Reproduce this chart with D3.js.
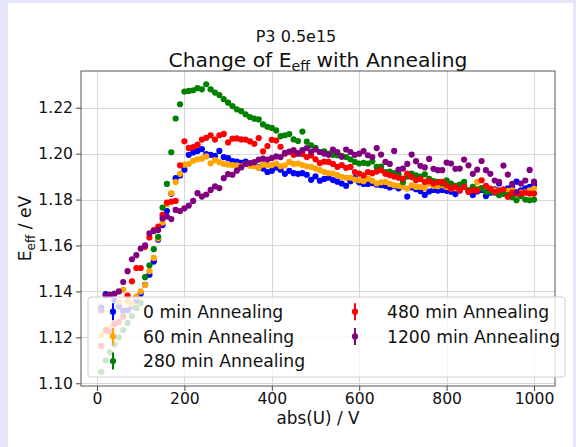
<!DOCTYPE html>
<html>
<head>
<meta charset="utf-8">
<script src="https://cdn.jsdelivr.net/npm/d3@7"></script>
<style>
  html, body { margin: 0; padding: 0; background: #e6e6fa; }
  svg { display: block; }
  text { font-family: "DejaVu Sans", sans-serif; }
</style>
</head>
<body>
<div id="chart"></div>
<script>
// ---------------- data ----------------
const voltages = [10,20,30,40,50,60,70,80,90,100,110,120,130,140,150,160,170,180,190,200,
  210,220,230,240,250,260,270,280,290,300,310,320,330,340,350,360,370,380,390,400,
  410,420,430,440,450,460,470,480,490,500,510,520,530,540,550,560,570,580,590,600,
  610,620,630,640,650,660,670,680,690,700,710,720,730,740,750,760,770,780,790,800,
  810,820,830,840,850,860,870,880,890,900,910,920,930,940,950,960,970,980,990,1000];

const eff0 = [1.1330,1.1388,1.1385,1.1360,1.1335,1.1315,1.1318,1.1335,1.1360,1.1390,
  1.1429,1.1473,1.1530,1.1625,1.1689,1.1750,1.1825,1.1893,1.1905,1.1930,
  1.1995,1.2005,1.2012,1.2020,1.1998,1.1995,1.1990,1.2012,1.1985,1.1980,
  1.1968,1.1965,1.1960,1.1965,1.1955,1.1960,1.1940,1.1935,1.1920,1.1925,
  1.1940,1.1930,1.1912,1.1925,1.1915,1.1912,1.1915,1.1908,1.1886,1.1901,
  1.1882,1.1890,1.1895,1.1885,1.1878,1.1870,1.1860,1.1880,1.1893,1.1875,
  1.1868,1.1868,1.1872,1.1865,1.1863,1.1860,1.1853,1.1858,1.1849,1.1855,
  1.1813,1.1853,1.1845,1.1837,1.1820,1.1835,1.1842,1.1839,1.1842,1.1838,
  1.1834,1.1824,1.1840,1.1860,1.1840,1.1820,1.1835,1.1842,1.1815,1.1830,
  1.1845,1.1870,1.1840,1.1849,1.1855,1.1878,1.1840,1.1849,1.1855,1.1863];

const eff60 = [1.1210,1.1225,1.1240,1.1260,1.1355,1.1407,1.1356,1.1345,1.1377,1.1400,
  1.1428,1.1488,1.1546,1.1630,1.1700,1.1780,1.1828,1.1876,1.1912,1.1952,
  1.1955,1.1969,1.1975,1.1978,1.1988,1.1958,1.1972,1.1963,1.1955,1.1952,
  1.1950,1.1949,1.1945,1.1955,1.1947,1.1945,1.1938,1.1952,1.1949,1.1950,
  1.1957,1.1945,1.1949,1.1964,1.1955,1.1957,1.1950,1.1945,1.1942,1.1935,
  1.1928,1.1920,1.1915,1.1913,1.1906,1.1899,1.1895,1.1895,1.1887,1.1884,
  1.1880,1.1891,1.1882,1.1870,1.1875,1.1877,1.1868,1.1862,1.1860,1.1855,
  1.1848,1.1862,1.1855,1.1855,1.1850,1.1870,1.1860,1.1858,1.1862,1.1855,
  1.1848,1.1850,1.1845,1.1855,1.1840,1.1845,1.1877,1.1850,1.1848,1.1842,
  1.1840,1.1835,1.1833,1.1838,1.1840,1.1826,1.1830,1.1833,1.1840,1.1848];

const eff280 = [1.1050,1.1100,1.1135,1.1170,1.1200,1.1232,1.1263,1.1293,1.1328,1.1350,
  1.1462,1.1514,1.1584,1.1638,1.1765,1.1868,1.2006,1.2153,1.2215,1.2270,
  1.2273,1.2276,1.2285,1.2280,1.2302,1.2280,1.2266,1.2255,1.2237,1.2222,
  1.2207,1.2193,1.2185,1.2171,1.2159,1.2152,1.2149,1.2127,1.2117,1.2112,
  1.2101,1.2076,1.2080,1.2085,1.2062,1.2055,1.2096,1.2052,1.2036,1.2025,
  1.2007,1.2010,1.2000,1.1995,1.1993,1.1990,1.1985,1.1975,1.1964,1.1957,
  1.1960,1.1957,1.1966,1.1942,1.1944,1.1920,1.1922,1.1915,1.1910,1.1877,
  1.1900,1.1913,1.1905,1.1900,1.1910,1.1890,1.1880,1.1877,1.1870,1.1884,
  1.1870,1.1860,1.1865,1.1877,1.1840,1.1855,1.1845,1.1850,1.1833,1.1835,
  1.1830,1.1819,1.1825,1.1819,1.1810,1.1797,1.1815,1.1800,1.1797,1.1800];

const eff480 = [1.1163,1.1232,1.1225,1.1258,1.1268,1.1290,1.1382,1.1444,1.1502,1.1502,
  1.1594,1.1635,1.1667,1.1682,1.1733,1.1787,1.1791,1.1794,1.1949,1.2054,
  1.2025,1.2028,1.2039,1.2061,1.2069,1.2080,1.2061,1.2080,1.2086,1.2049,
  1.2065,1.2066,1.2062,1.2061,1.2053,1.2043,1.2068,1.2010,1.2033,1.2060,
  1.2057,1.2030,1.2000,1.2007,1.1995,1.2002,1.1998,1.1985,1.1992,1.1975,
  1.1959,1.1965,1.1964,1.1955,1.1942,1.1950,1.1938,1.1942,1.1920,1.1913,
  1.1905,1.1920,1.1915,1.1922,1.1928,1.1912,1.1906,1.1900,1.1895,1.1891,
  1.1913,1.1898,1.1884,1.1890,1.1877,1.1880,1.1870,1.1875,1.1877,1.1862,
  1.1848,1.1855,1.1840,1.1855,1.1833,1.1840,1.1840,1.1884,1.1860,1.1848,
  1.1833,1.1840,1.1845,1.1812,1.1830,1.1826,1.1826,1.1830,1.1826,1.1826];

const eff1200 = [1.1318,1.1382,1.1385,1.1390,1.1400,1.1441,1.1488,1.1540,1.1558,1.1587,
  1.1601,1.1653,1.1663,1.1667,1.1718,1.1726,1.1715,1.1755,1.1750,1.1762,
  1.1774,1.1794,1.1828,1.1813,1.1822,1.1842,1.1857,1.1850,1.1893,1.1911,
  1.1908,1.1926,1.1940,1.1955,1.1959,1.1963,1.1974,1.1978,1.1974,1.1981,
  1.1988,1.1985,1.2003,1.2009,1.2015,1.2000,1.2015,1.2024,1.2007,1.2018,
  1.2007,1.2000,1.1995,1.2018,1.2007,1.1986,1.2018,1.2007,1.1995,1.2000,
  1.2011,1.1993,1.1985,1.2024,1.1996,1.1964,1.1955,1.2012,1.1930,1.1935,
  1.1955,1.1996,1.1967,1.1947,1.1940,1.1977,1.1934,1.1928,1.1928,1.1961,
  1.1957,1.1934,1.1935,1.1974,1.1949,1.1912,1.1930,1.1968,1.1928,1.1912,
  1.1883,1.1877,1.1948,1.1909,1.1868,1.1832,1.1870,1.1883,1.1929,1.1878];

const seriesLabels = ["0 min Annealing", "60 min Annealing", "280 min Annealing", "480 min Annealing", "1200 min Annealing"];
const seriesColors = ["blue", "orange", "green", "red", "purple"];
const seriesValues = [eff0, eff60, eff280, eff480, eff1200];
const xTicks = [0, 200, 400, 600, 800, 1000];
const yTicks = [1.10, 1.12, 1.14, 1.16, 1.18, 1.20, 1.22];

// ---------------- layout ----------------
const W = 576, H = 447;
const L = 81, R = 555, T = 71, B = 386;
const FS = 15.6;   // tick labels
const LFS = 17.2;  // legend / axis labels

const svg = d3.select("#chart").append("svg").attr("width", W).attr("height", H);
svg.append("rect").attr("width", W).attr("height", H).attr("fill", "#e6e6fa");
svg.append("rect").attr("x", 8).attr("y", 3).attr("width", 565).attr("height", H - 3).attr("fill", "#ffffff");

const x = d3.scaleLinear().domain([-36.6, 1048]).range([L, R]);
const y = d3.scaleLinear().domain([1.09882, 1.23598]).range([B, T]);

// grid
const grid = svg.append("g");
grid.selectAll(".gx").data(xTicks).enter().append("line")
  .attr("x1", d => Math.round(x(d)) + 0.5).attr("x2", d => Math.round(x(d)) + 0.5)
  .attr("y1", T).attr("y2", B).attr("stroke", "#d8d8d8").attr("stroke-width", 1);
grid.selectAll(".gy").data(yTicks).enter().append("line")
  .attr("y1", d => Math.round(y(d)) + 0.5).attr("y2", d => Math.round(y(d)) + 0.5)
  .attr("x1", L).attr("x2", R).attr("stroke", "#d8d8d8").attr("stroke-width", 1);

// points
const pts = svg.append("g");
seriesValues.forEach((vals, i) => {
  pts.append("g").selectAll("circle").data(vals).enter().append("circle")
    .attr("cx", (d, j) => x(voltages[j]))
    .attr("cy", d => y(d))
    .attr("r", 3.1)
    .attr("fill", seriesColors[i]);
});

// axes
const xAxis = d3.axisBottom(x).tickValues(xTicks).tickSize(5).tickPadding(2).tickFormat(d3.format("d"));
const yAxis = d3.axisLeft(y).tickValues(yTicks).tickSize(5).tickPadding(3).tickFormat(d3.format(".2f"));

const gx = svg.append("g").attr("transform", `translate(0,${B})`).call(xAxis);
const gy = svg.append("g").attr("transform", `translate(${L},0)`).call(yAxis);
[gx, gy].forEach(g => {
  g.select(".domain").remove();
  g.selectAll("line").attr("stroke", "#333").attr("stroke-width", 0.9);
  g.selectAll("text").attr("font-size", FS).attr("fill", "#111").attr("font-family", "DejaVu Sans");
});

// spines
svg.append("rect").attr("x", L).attr("y", T).attr("width", R - L).attr("height", B - T)
  .attr("fill", "none").attr("stroke", "#444").attr("stroke-width", 0.9);

// legend
const leg = svg.append("g");
leg.append("rect").attr("x", 88).attr("y", 297).attr("width", 477).attr("height", 80)
  .attr("rx", 3).attr("fill", "#ffffff").attr("fill-opacity", 0.8)
  .attr("stroke", "#d0d0d0").attr("stroke-width", 1);
const legPos = [
  {hx: 113, tx: 143, cy: 311.7},
  {hx: 113, tx: 143, cy: 336.4},
  {hx: 113, tx: 143, cy: 361},
  {hx: 355, tx: 387, cy: 311.7},
  {hx: 355, tx: 387, cy: 336.4}
];
seriesLabels.forEach((lab, i) => {
  const p = legPos[i];
  leg.append("line").attr("x1", p.hx).attr("x2", p.hx).attr("y1", p.cy - 8.5).attr("y2", p.cy + 8.5)
    .attr("stroke", seriesColors[i]).attr("stroke-width", 2);
  leg.append("circle").attr("cx", p.hx).attr("cy", p.cy).attr("r", 3.1).attr("fill", seriesColors[i]);
  leg.append("text").attr("x", p.tx).attr("y", p.cy).attr("dy", "0.36em")
    .attr("font-size", LFS).attr("fill", "#111").text(lab);
});

// titles
svg.append("text").attr("x", 296).attr("y", 41.7).attr("text-anchor", "middle")
  .attr("font-size", 16).attr("fill", "#111").text("P3 0.5e15");

const title = svg.append("text").attr("x", (L + R) / 2).attr("y", 66.7).attr("text-anchor", "middle")
  .attr("font-size", 20.3).attr("fill", "#111");
title.append("tspan").text("Change of E");
title.append("tspan").attr("font-size", 14.2).attr("dy", 4.2).text("eff");
title.append("tspan").attr("font-size", 20.3).attr("dy", -4.2).text(" with Annealing");

// axis labels
svg.append("text").attr("x", (L + R) / 2).attr("y", 423.5).attr("text-anchor", "middle")
  .attr("font-size", 16.8).attr("fill", "#111").text("abs(U) / V");

const yl = svg.append("text").attr("transform", `translate(31,${(T + B) / 2}) rotate(-90)`)
  .attr("text-anchor", "middle").attr("font-size", LFS).attr("fill", "#111");
yl.append("tspan").text("E");
yl.append("tspan").attr("font-size", 12).attr("dy", 3.5).text("eff");
yl.append("tspan").attr("font-size", LFS).attr("dy", -3.5).text(" / eV");
</script>
</body>
</html>
